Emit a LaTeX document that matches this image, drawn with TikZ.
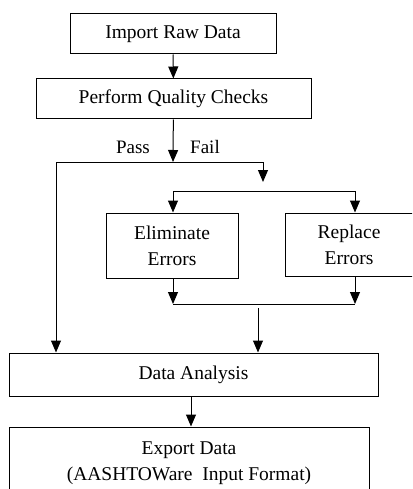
\documentclass[tikz,border=0pt]{standalone}
\usepackage{fontspec}
\setmainfont{Liberation Serif}
\usetikzlibrary{arrows.meta}
\tikzset{
	stepbox/.style={draw, line width=1pt, rectangle, inner sep=0pt, align=center, font=\fontsize{19.5}{26}\selectfont},
	flow/.style={line width=1pt, -{Triangle[width=10pt,length=12pt]}},
	wire/.style={line width=1pt},
	lbl/.style={font=\fontsize{19}{23}\selectfont, inner sep=0pt}
}

\begin{document}
\begin{tikzpicture}[x=1pt, y=-1pt]
		%%%%% START %%%%%
		\useasboundingbox (0, 0) rectangle (412, 489);
		\clip (0, 0) rectangle (412, 489);
		
		\node[stepbox, minimum width=206pt, minimum height=40pt] (import) at (173, 34) {Import Raw Data};
		\node[stepbox, minimum width=275pt, minimum height=40pt] (check) at (173.5, 99) {Perform Quality Checks};
		\node[stepbox, minimum width=132pt, minimum height=65pt] (elim) at (172, 245.5) {Eliminate\\Errors};
		\node[stepbox, minimum width=128pt, minimum height=63pt] (repl) at (349, 244.5) {Replace\\Errors};
		\node[stepbox, minimum width=369pt, minimum height=43pt] (anal) at (193.5, 374.5) {Data Analysis};
		\node[stepbox, minimum width=360pt, minimum height=72pt] (export) at (189, 463) {Export Data\\(AASHTOWare\ \ Input Format)};
		
		\node[lbl] (pass) at (133, 147) {Pass};
		\node[lbl] (fail) at (205, 147) {Fail};
		
		\coordinate (split) at (173, 162);
		\coordinate (passturn) at (56, 162);
		\coordinate (failturn) at (263, 162);
		\coordinate (failend) at (263, 182);
		\coordinate (fork) at (173, 191);
		\coordinate (forkr) at (355, 191);
		\coordinate (joinl) at (173, 304);
		\coordinate (joinr) at (355, 304);
		\coordinate (merge) at (258, 308);
		\coordinate (out) at (191, 396);
		
		\draw[flow] (import) -- (check);
		\draw[flow] (check) -- (split);
		\draw[wire] (passturn) -- (failturn);
		\draw[flow] (passturn) -- (passturn |- anal.north);
		\draw[flow] (failturn) -- (failend);
		
		\draw[wire] (fork) -- (forkr);
		\draw[flow] (fork) -- (fork |- elim.north);
		\draw[flow] (forkr) -- (forkr |- repl.north);
		
		\draw[flow] (joinl |- elim.south) -- (joinl);
		\draw[flow] (joinr |- repl.south) -- (joinr);
		\draw[wire] (joinl) -- (joinr);
		\draw[flow] (merge) -- (merge |- anal.north);
		
		\draw[flow] (out) -- (out |- export.north);
		%%%%% END %%%%%
	\end{tikzpicture}
\end{document}
